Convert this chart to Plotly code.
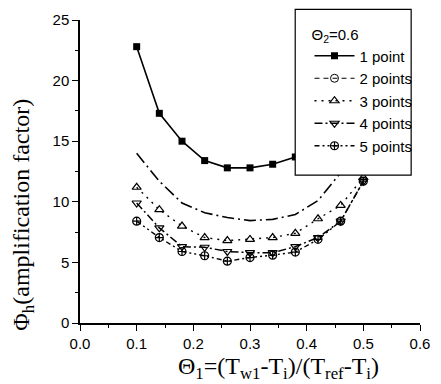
import plotly.graph_objects as go

theta1 = [0.10, 0.14, 0.18, 0.22, 0.26, 0.30, 0.34, 0.38, 0.42, 0.46, 0.50]
p1 = [22.8, 17.3, 15.0, 13.4, 12.8, 12.8, 13.1, 13.7, 14.8, 16.3, 18.2]
p2 = [14.0, 11.7, 9.9, 9.1, 8.7, 8.45, 8.55, 8.95, 10.1, 12.4, 15.5]
p3 = [11.2, 9.35, 8.0, 7.05, 6.8, 6.9, 7.05, 7.4, 8.6, 9.7, 12.0]
p4 = [9.9, 7.85, 6.3, 6.25, 5.9, 5.8, 5.8, 6.3, 7.05, 8.4, 11.7]
p5 = [8.4, 7.05, 5.9, 5.55, 5.1, 5.4, 5.6, 5.85, 6.9, 8.4, 11.7]
names = ["1 point", "2 points", "3 points", "4 points", "5 points"]
legend_title = "Θ<sub>2</sub>=0.6"
x_title = "Θ<sub>1</sub>=(T<sub>w1</sub>-T<sub>i</sub>)/(T<sub>ref</sub>-T<sub>i</sub>)"
y_title = "Φ<sub>h</sub>(amplification factor)"
x_ticks = [0, 0.1, 0.2, 0.3, 0.4, 0.5, 0.6]
x_ticktext = ["0.0", "0.1", "0.2", "0.3", "0.4", "0.5", "0.6"]
y_ticks = [0, 5, 10, 15, 20, 25]

fig = go.Figure()
blk = "black"
fig.add_trace(go.Scatter(x=theta1, y=p1, name=names[0], mode="lines+markers",
                         line=dict(color=blk, width=1.6),
                         marker=dict(symbol="square", size=7, color=blk)))
# series 2: markers not visible in plot; legend-only entry shows the marker
fig.add_trace(go.Scatter(x=theta1, y=p2, name=names[1], mode="lines", showlegend=False,
                         line=dict(color=blk, width=1.6, dash="12px,4px,2px,4px")))
fig.add_trace(go.Scatter(x=[None], y=[None], name=names[1], mode="lines+markers",
                         line=dict(color=blk, width=1.2, dash="5px,4px"),
                         marker=dict(symbol="circle-open", size=8, color=blk)))
fig.add_trace(go.Scatter(x=theta1, y=p3, name=names[2], mode="lines+markers",
                         line=dict(color=blk, width=1.4, dash="2px,5px"),
                         marker=dict(symbol="triangle-up-open", size=8, color=blk, line=dict(width=1.2))))
fig.add_trace(go.Scatter(x=theta1, y=p4, name=names[3], mode="lines+markers",
                         line=dict(color=blk, width=1.5, dash="8px,3px,2px,3px"),
                         marker=dict(symbol="triangle-down-open", size=8, color=blk, line=dict(width=1.2))))
fig.add_trace(go.Scatter(x=theta1, y=p5, name=names[4], mode="lines+markers",
                         line=dict(color=blk, width=1.4, dash="5px,3px,2px,3px,2px,3px"),
                         marker=dict(symbol="circle-cross-open", size=8, color=blk, line=dict(width=1.2))))

axis_common = dict(showline=True, linecolor=blk, linewidth=1.5, ticks="outside",
                   ticklen=6, tickwidth=1.2, tickcolor=blk, showgrid=False, zeroline=False,
                   tickfont=dict(family="Liberation Sans, Arial", size=15, color=blk),
                   mirror=False)
fig.update_xaxes(range=[0, 0.6], tickvals=x_ticks, ticktext=x_ticktext,
                 minor=dict(dtick=0.05, ticks="outside", ticklen=3, tickcolor=blk, tickwidth=1),
                 **axis_common)
fig.update_yaxes(range=[0, 25], tickvals=y_ticks,
                 minor=dict(dtick=2.5, ticks="outside", ticklen=3, tickcolor=blk, tickwidth=1),
                 **axis_common)

serif = dict(family="Liberation Serif, Times New Roman", size=24, color=blk)
fig.add_annotation(text=x_title, xref="paper", yref="paper", x=0.584, y=-0.1485,
                   xanchor="center", yanchor="middle", showarrow=False, font=serif)
fig.add_annotation(text=y_title, xref="paper", yref="paper", x=-0.166, y=0.356,
                   xanchor="center", yanchor="middle", showarrow=False, font=serif, textangle=-90)

# legend frame
fig.add_shape(type="rect", xref="paper", yref="paper", x0=0.633, x1=0.974, y0=0.488, y1=1.035,
              fillcolor="white", line=dict(color=blk, width=1.2), layer="above")

fig.update_layout(
    width=441, height=384,
    margin=dict(l=80, r=11, t=20, b=61),
    plot_bgcolor="white", paper_bgcolor="white",
    showlegend=True,
    legend=dict(x=0.675, y=1.0, xanchor="left", yanchor="top",
                bgcolor="rgba(0,0,0,0)", borderwidth=0,
                font=dict(family="Liberation Sans, Arial", size=15, color=blk),
                title=dict(text=legend_title, font=dict(family="Liberation Sans, Arial", size=15, color=blk)),
                itemwidth=40, tracegroupgap=0),
)
fig.write_html("out.html")
